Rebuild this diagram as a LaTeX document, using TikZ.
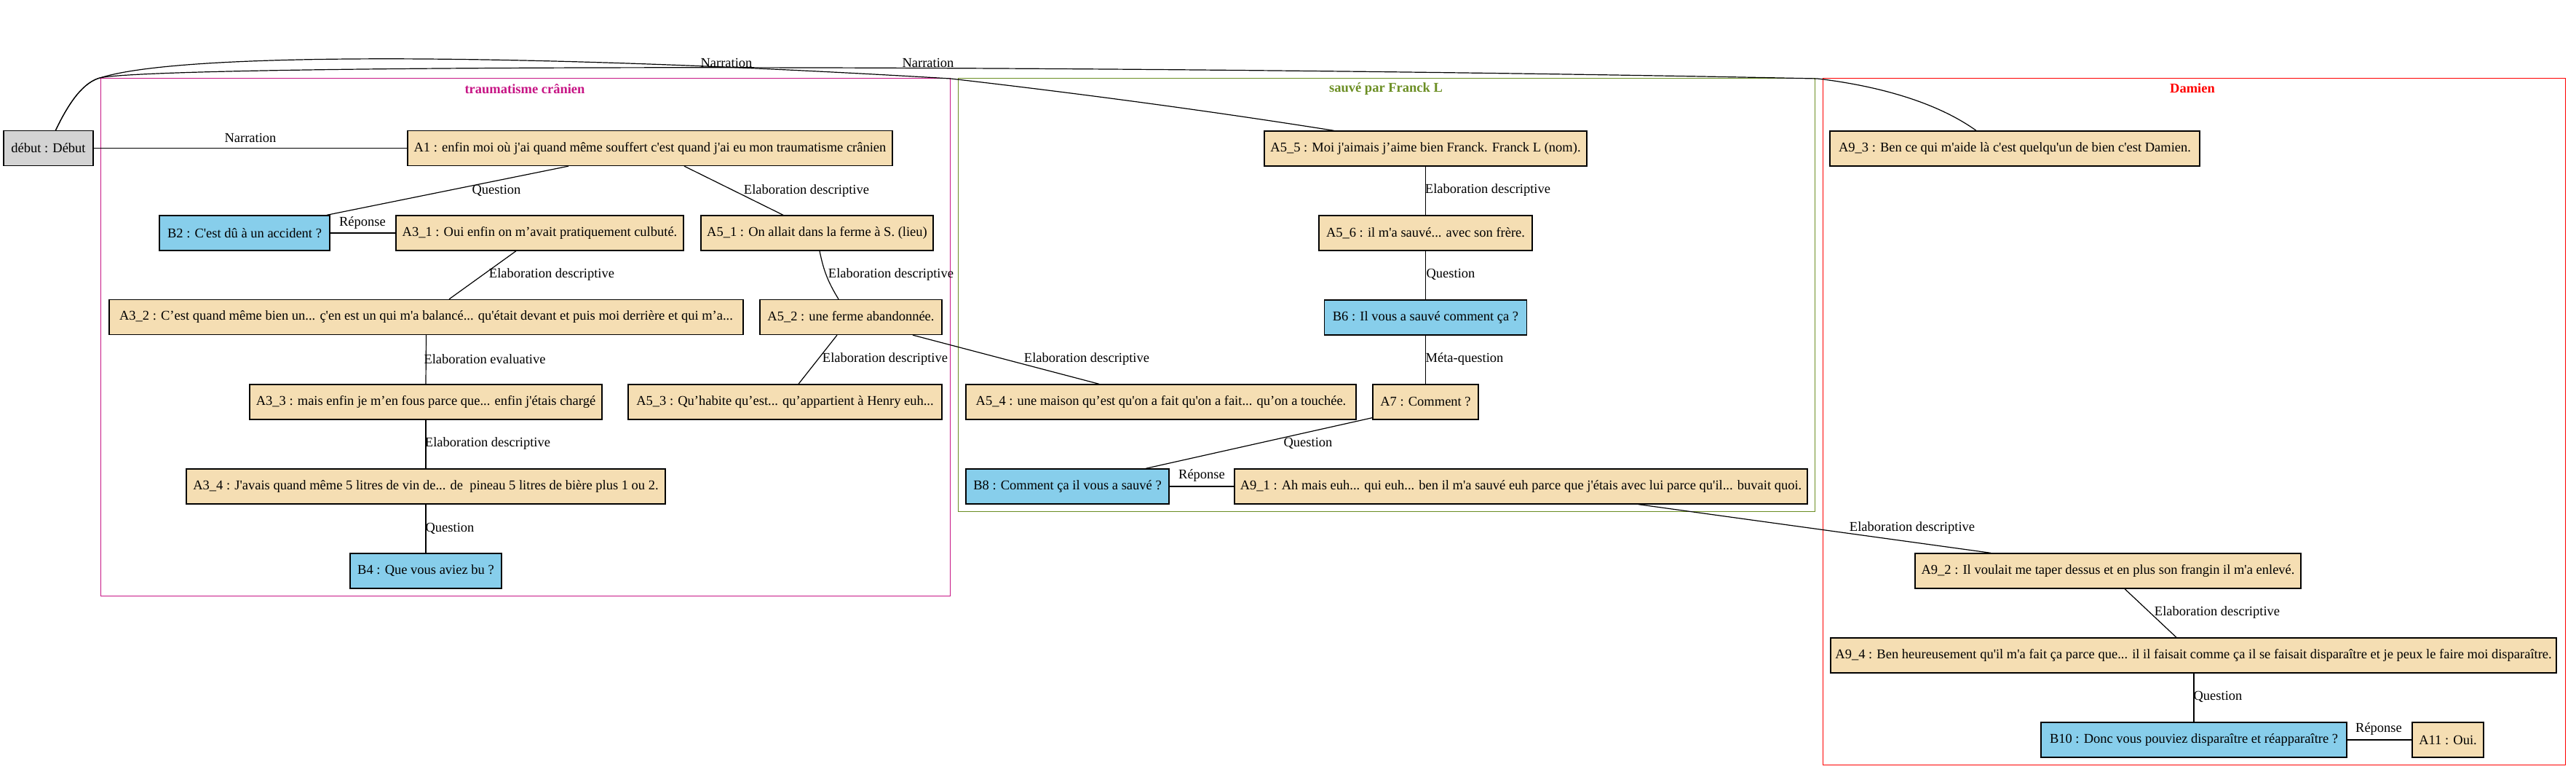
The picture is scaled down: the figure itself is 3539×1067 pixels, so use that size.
\documentclass[tikz,border=0pt]{standalone}
\usepackage{fontspec}
\setmainfont{Liberation Serif}[Ligatures=TeXOff]
\definecolor{wheatc}{HTML}{F5DEB3}
\definecolor{skyc}{HTML}{87CEEB}
\definecolor{grayc}{HTML}{D3D3D3}
\definecolor{pinkc}{HTML}{C71585}
\definecolor{greenc}{HTML}{6B8E23}
\definecolor{redc}{HTML}{FF0000}
\begin{document}
\begin{tikzpicture}[x=1pt,y=-1pt,
  box/.style={draw=black, line width=1.33pt, rectangle, minimum height=48pt, inner sep=0pt, font=\fontsize{18.5}{22}\selectfont},
  abox/.style={box, fill=wheatc},
  bbox/.style={box, fill=skyc},
  gbox/.style={box, fill=grayc},
  lab/.style={font=\fontsize{18.5}{22}\selectfont, inner sep=0pt},
  conn/.style={draw=black, line width=1.2pt},
  ttl/.style={font=\bfseries\fontsize{18.5}{22}\selectfont, inner sep=0pt},
  clus/.style={line width=1pt}]
\fill[white] (0,0) rectangle (3539,1067);
\useasboundingbox (0,0) rectangle (3539,1067);
% clusters
\draw[clus, draw=pinkc] (138,108) rectangle (1305,818);
\node[ttl, text=pinkc] (t1) at (721,122) {traumatisme crânien};
\draw[clus, draw=greenc] (1316,108) rectangle (2493,702);
\node[ttl, text=greenc] (t2) at (1904,122) {sauvé par Franck L};
\draw[clus, draw=redc] (2504,108) rectangle (3524,1050);
\node[ttl, text=redc] (t3) at (3012,121) {Damien};
% nodes
\node[gbox, minimum width=123pt] (deb) at (66.5,203.5) {début : Début};
\node[abox, minimum width=666pt] (a1) at (893,203.5) {A1 : enfin moi où j'ai quand même souffert c'est quand j'ai eu mon traumatisme crânien};
\node[bbox, minimum width=234pt] (b2) at (336,320) {B2 : C'est dû à un accident ?};
\node[abox, minimum width=395pt] (a31) at (741.5,320) {A3\_1 : Oui enfin on m’avait pratiquement culbuté.};
\node[abox, minimum width=319pt] (a51) at (1122.5,320) {A5\_1 : On allait dans la ferme à S. (lieu)};
\node[abox, minimum width=871pt] (a32) at (585.5,435.5) {A3\_2 : C’est quand même bien un...  ç'en est un qui m'a balancé... qu'était devant et puis moi derrière et qui m’a...};
\node[abox, minimum width=250pt] (a52) at (1169,435.5) {A5\_2 : une ferme abandonnée.};
\node[abox, minimum width=484pt] (a33) at (585,552) {A3\_3 : mais enfin je m’en fous parce que... enfin j'étais chargé};
\node[abox, minimum width=431pt] (a53) at (1078.5,552) {A5\_3 : Qu’habite qu’est... qu’appartient à Henry euh...};
\node[abox, minimum width=658pt] (a34) at (585,668) {A3\_4 : J'avais quand même 5 litres de vin de... de\ \ pineau 5 litres de bière plus 1 ou 2.};
\node[bbox, minimum width=208pt] (b4) at (585,784) {B4 : Que vous aviez bu ?};
\node[abox, minimum width=443pt] (a55) at (1958.5,204) {A5\_5 : Moi j'aimais j’aime bien Franck. Franck L (nom).};
\node[abox, minimum width=293pt] (a56) at (1958.5,320) {A5\_6 : il m'a sauvé... avec son frère.};
\node[bbox, minimum width=278pt] (b6) at (1958.5,436) {B6 : Il vous a sauvé comment ça ?};
\node[abox, minimum width=536pt] (a54) at (1595,552) {A5\_4 : une maison qu’est qu'on a fait qu'on a fait... qu’on a touchée.};
\node[abox, minimum width=145pt] (a7) at (1958.5,552) {A7 : Comment ?};
\node[bbox, minimum width=279pt] (b8) at (1466.5,668) {B8 : Comment ça il vous a sauvé ?};
\node[abox, minimum width=787pt] (a91) at (2089.5,668) {A9\_1 : Ah mais euh... qui euh... ben il m'a sauvé euh parce que j'étais avec lui parce qu'il... buvait quoi.};
\node[abox, minimum width=508pt] (a93) at (2768,204) {A9\_3 : Ben ce qui m'aide là c'est quelqu'un de bien c'est Damien.};
\node[abox, minimum width=530pt] (a92) at (2896,784) {A9\_2 : Il voulait me taper dessus et en plus son frangin il m'a enlevé.};
\node[abox, minimum width=997pt] (a94) at (3013.5,900) {A9\_4 : Ben heureusement qu'il m'a fait ça parce que... il il faisait comme ça il se faisait disparaître et je peux le faire moi disparaître.};
\node[bbox, minimum width=420pt] (b10) at (3014,1016) {B10 : Donc vous pouviez disparaître et réapparaître ?};
\node[abox, minimum width=98pt] (a11) at (3363,1016) {A11 : Oui.};
% edges
\draw[conn] (deb.east) -- (a1.west);
\draw[conn] ([xshift=10pt]deb.north) .. controls (95,140) and (115,112) .. (139,106.5)
  .. controls (250,72) and (700,72) .. (1306,108)
  .. controls (1480,128) and (1660,152) .. ([xshift=-126pt]a55.north);
\draw[conn] ([xshift=10pt]deb.north) .. controls (95,140) and (115,112) .. (139,106.5)
  .. controls (250,88) and (1500,88) .. (2497,108)
  .. controls (2580,118) and (2660,140) .. ([xshift=-53pt]a93.north);
\draw[conn] ([xshift=-112pt]a1.south) -- ([xshift=113pt]b2.north);
\draw[conn] ([xshift=47pt]a1.south) -- ([xshift=-46.5pt]a51.north);
\draw[conn] (b2.east) -- (a31.west);
\draw[conn] ([xshift=-32.5pt]a31.south) -- ([xshift=31.5pt]a32.north);
\draw[conn] ([xshift=3.5pt]a51.south) to[bend right=10] ([xshift=-17pt]a52.north);
\draw[conn] (a32.south) -- (a33.north);
\draw[conn] (a33.south) -- (a34.north);
\draw[conn] (a34.south) -- (b4.north);
\draw[conn] ([xshift=-19pt]a52.south) -- ([xshift=18.5pt]a53.north);
\draw[conn] ([xshift=85pt]a52.south) -- ([xshift=-85pt]a54.north);
\draw[conn] (a55.south) -- (a56.north);
\draw[conn] (a56.south) -- (b6.north);
\draw[conn] (b6.south) -- (a7.north);
\draw[conn] ([yshift=3pt]a7.south west) -- ([xshift=107.5pt]b8.north);
\draw[conn] (b8.east) -- (a91.west);
\draw[conn] ([xshift=161.5pt]a91.south) -- ([xshift=-161pt]a92.north);
\draw[conn] ([xshift=23pt]a92.south) -- ([xshift=-23.5pt]a94.north);
\draw[conn] ([xshift=0.5pt]a94.south) -- (b10.north);
\draw[conn] (b10.east) -- (a11.west);
% edge labels
\node[lab] (l1) at (344,189) {Narration};
\node[lab] (l2) at (998,86) {Narration};
\node[lab] (l3) at (1275,86) {Narration};
\node[lab] (l4) at (682,262) {Question};
\node[lab] (l5) at (1108,262) {Elaboration descriptive};
\node[lab] (l6) at (498,306) {Réponse};
\node[lab] (l7) at (758,377) {Elaboration descriptive};
\node[lab] (l8) at (1224,377) {Elaboration descriptive};
\node[lab] (l9) at (666,493) {Elaboration evaluative};
\node[lab] (l10) at (670,609) {Elaboration descriptive};
\node[lab] (l11) at (618,726) {Question};
\node[lab] (l12) at (1216,493) {Elaboration descriptive};
\node[lab] (l13) at (1493,493) {Elaboration descriptive};
\node[lab] (l14) at (2044,261) {Elaboration descriptive};
\node[lab] (l15) at (1993,377) {Question};
\node[lab] (l16) at (2012,493) {Méta-question};
\node[lab] (l17) at (1797,609) {Question};
\node[lab] (l18) at (1651,653) {Réponse};
\node[lab] (l19) at (2627,725) {Elaboration descriptive};
\node[lab] (l20) at (3046,841) {Elaboration descriptive};
\node[lab] (l21) at (3047,957) {Question};
\node[lab] (l22) at (3268,1001) {Réponse};
\end{tikzpicture}
\end{document}
